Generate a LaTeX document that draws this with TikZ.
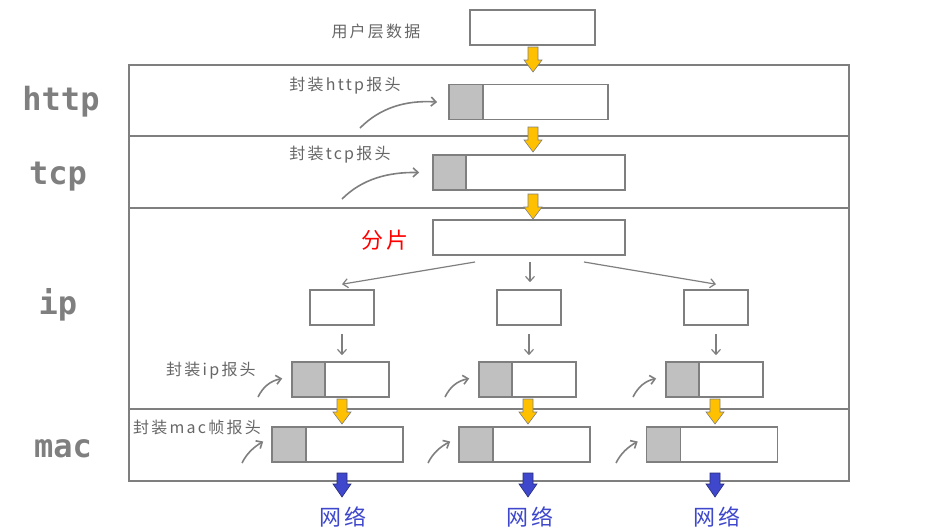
\documentclass[tikz,border=0pt]{standalone}
\usepackage{fontspec}
\usetikzlibrary{arrows.meta}
\newfontfamily\cjk{Noto Sans CJK SC}
\newfontfamily\cjksp{Noto Sans CJK SC}[LetterSpace=14]
\newfontfamily\lab{DejaVu Sans Mono}
\definecolor{lg}{HTML}{7F7F7F}
\definecolor{hg}{HTML}{C0C0C0}
\definecolor{ylw}{HTML}{FFC000}
\definecolor{blu}{HTML}{3F48CC}
\definecolor{txg}{HTML}{666666}
\begin{document}
\begin{tikzpicture}[x=1pt,y=-1pt,
  box/.style={draw=lg,line width=1.6pt,fill=white,inner sep=0pt,minimum height=35pt},
  hdr/.style={draw=lg,line width=1.6pt,fill=hg,inner sep=0pt,minimum height=35pt,anchor=west},
  frame/.style={draw=lg,line width=1.8pt},
  layer/.style={font=\lab\bfseries\fontsize{32}{32}\selectfont,text=lg},
  note/.style={font=\cjksp\fontsize{16}{16}\selectfont,text=txg},
  thin/.style={draw=lg,line width=1.2pt,-{Straight Barb[length=5pt,width=9pt]}},
  curv/.style={draw=lg,line width=1.6pt,-{Straight Barb[length=5pt,width=9pt]}},
  yarrow/.pic={\draw[fill=ylw,draw=lg,line width=0.6pt] (-5,0) -- (5,0) -- (5,13) -- (9,13) -- (0,25) -- (-9,13) -- (-5,13) -- cycle;},
  barrow/.pic={\draw[fill=blu,draw=blu!60!black,line width=0.6pt] (-5,0) -- (5,0) -- (5,11) -- (9,11) -- (0,24) -- (-9,11) -- (-5,11) -- cycle;}
]
\useasboundingbox (0,0) rectangle (930,531);
% frame
\draw[frame] (129,65) rectangle (849,481);
\draw[frame] (129,136) -- (849,136);
\draw[frame] (129,208) -- (849,208);
\draw[frame] (129,409) -- (849,409);
% layer labels
\node[layer] (lhttp) at (61,102) {http};
\node[layer] (ltcp) at (58,177) {tcp};
\node[layer] (lip) at (58,305) {ip};
\node[layer] (lmac) at (63,449) {mac};
% top data
\node[note] (tuser) at (376,31) {用户层数据};
\node[box,minimum width=125pt] (user) at (532.5,27.5) {};
\pic at (533,47) {yarrow};
% http
\node[box,minimum width=159pt] (h1) at (528.5,102) {};
\node[hdr,minimum width=34pt] (h1g) at (h1.west) {};
\node[note] (thttp) at (345,86) {封装http报头};
\coordinate (hc) at (360,128);
\draw[curv] (hc) .. controls (380,108) and (405,100) .. ([xshift=-11pt]h1.west);
\pic at (533,127) {yarrow};
% tcp
\node[box,minimum width=192pt] (t1) at (529,172.5) {};
\node[hdr,minimum width=33pt] (t1g) at (t1.west) {};
\node[note] (ttcp) at (340,155) {封装tcp报头};
\coordinate (tc) at (342,199);
\draw[curv] (tc) .. controls (362,179) and (388,172) .. ([xshift=-13pt]t1.west);
\pic at (533,194) {yarrow};
% ip
\node[box,minimum width=192pt] (frag) at (529,237.5) {};
\node[font=\cjksp\fontsize{22}{22}\selectfont,text=red] (tfrag) at (385,240) {分片};
\node[box,minimum width=64pt] (s1) at (342,307.5) {};
\node[box,minimum width=64pt] (s2) at (529,307.5) {};
\node[box,minimum width=64pt] (s3) at (716,307.5) {};
\coordinate (f1) at (475,262);
\coordinate (f2) at (530,262);
\coordinate (f3) at (584,262);
\draw[thin] (f1) -- ([yshift=5pt]s1.north);
\draw[thin] (f2) -- ([xshift=1pt,yshift=7pt]s2.north);
\draw[thin] (f3) -- ([yshift=5pt]s3.north);
\node[box,minimum width=97pt] (i1) at (340.5,379.5) {};
\node[hdr,minimum width=33pt] (i1g) at (i1.west) {};
\node[box,minimum width=97pt] (i2) at (527.5,379.5) {};
\node[hdr,minimum width=33pt] (i2g) at (i2.west) {};
\node[box,minimum width=97pt] (i3) at (714.5,379.5) {};
\node[hdr,minimum width=33pt] (i3g) at (i3.west) {};
\draw[thin,shorten <=8pt,shorten >=6pt] (s1.south) -- (s1.south |- i1.north);
\draw[thin,shorten <=8pt,shorten >=6pt] (s2.south) -- (s2.south |- i2.north);
\draw[thin,shorten <=8pt,shorten >=6pt] (s3.south) -- (s3.south |- i3.north);
\node[note] (tip) at (211,371) {封装ip报头};
\coordinate (ic1) at (258,397);
\coordinate (ic2) at (445,397);
\coordinate (ic3) at (633,397);
\draw[curv] (ic1) .. controls (263,387) and (270,381) .. ([xshift=-9pt,yshift=1pt]i1.west);
\draw[curv] (ic2) .. controls (450,387) and (457,381) .. ([xshift=-9pt,yshift=1pt]i2.west);
\draw[curv] (ic3) .. controls (638,387) and (645,381) .. ([xshift=-9pt,yshift=1pt]i3.west);
\pic at (342,399) {yarrow};
\pic at (528,399) {yarrow};
\pic at (715,399) {yarrow};
% mac
\node[box,minimum width=131pt] (m1) at (337.5,444.5) {};
\node[hdr,minimum width=34pt] (m1g) at (m1.west) {};
\node[box,minimum width=131pt] (m2) at (524.5,444.5) {};
\node[hdr,minimum width=34pt] (m2g) at (m2.west) {};
\node[box,minimum width=131pt] (m3) at (712,444.5) {};
\node[hdr,minimum width=34pt] (m3g) at (m3.west) {};
\node[note] (tmac) at (197,427) {封装mac帧报头};
\coordinate (mc1) at (242,463);
\coordinate (mc2) at (428,463);
\coordinate (mc3) at (616,463);
\draw[curv] (mc1) .. controls (247,453) and (254,447) .. ([xshift=-8pt,yshift=3pt]m1.west);
\draw[curv] (mc2) .. controls (433,453) and (440,447) .. ([xshift=-8pt,yshift=3pt]m2.west);
\draw[curv] (mc3) .. controls (621,453) and (628,447) .. ([xshift=-8pt,yshift=3pt]m3.west);
\pic at (342,473) {barrow};
\pic at (528,473) {barrow};
\pic at (715,473) {barrow};
\node[font=\cjksp\fontsize{22}{22}\selectfont,text=blu] (n1) at (343,517) {网络};
\node[font=\cjksp\fontsize{22}{22}\selectfont,text=blu] (n2) at (530,517) {网络};
\node[font=\cjksp\fontsize{22}{22}\selectfont,text=blu] (n3) at (717,517) {网络};
\end{tikzpicture}
\end{document}
